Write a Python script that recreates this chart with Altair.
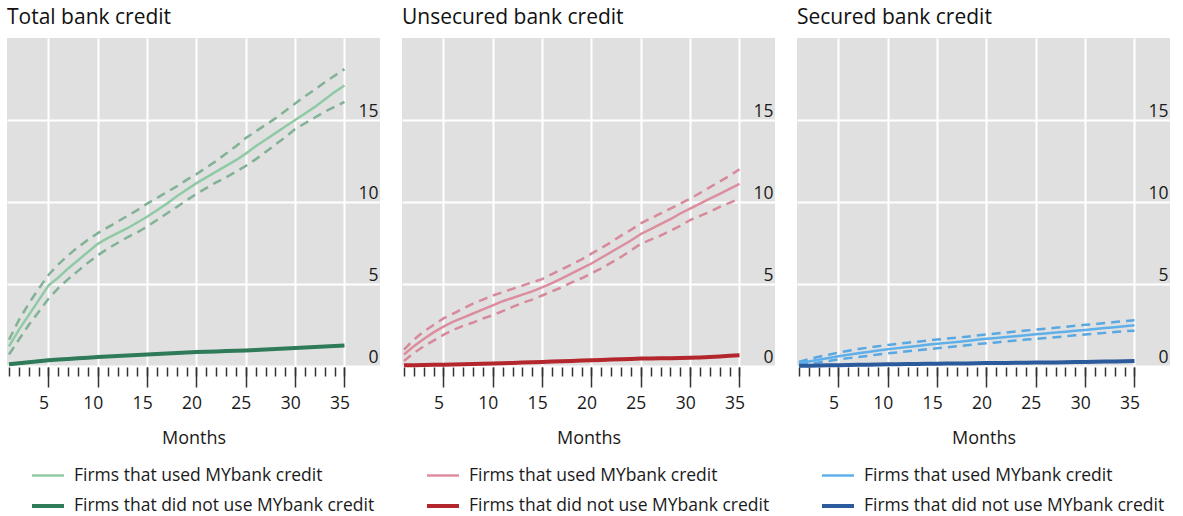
import altair as alt
import pandas as pd

# Months since first access to credit
months = list(range(1, 36))

# Total bank credit (per cent)
total_used = [1.2, 2.2, 3.1, 4.0, 4.9, 5.4, 5.95, 6.45, 6.95, 7.45,
              7.8, 8.1, 8.4, 8.75, 9.1, 9.5, 9.9, 10.35, 10.75, 11.15,
              11.5, 11.85, 12.2, 12.55, 12.95, 13.4, 13.8, 14.2, 14.6, 15.0,
              15.4, 15.8, 16.25, 16.7, 17.1]
total_used_hi = [1.6, 2.8, 3.8, 4.7, 5.55, 6.2, 6.75, 7.25, 7.7, 8.1,
                 8.45, 8.8, 9.15, 9.5, 9.9, 10.25, 10.6, 10.95, 11.35, 11.7,
                 12.1, 12.5, 12.95, 13.4, 13.9, 14.3, 14.7, 15.1, 15.55, 16.0,
                 16.45, 16.85, 17.3, 17.7, 18.1]
total_used_lo = [0.7, 1.6, 2.5, 3.3, 4.1, 4.75, 5.3, 5.8, 6.3, 6.75,
                 7.15, 7.5, 7.85, 8.15, 8.5, 8.9, 9.3, 9.7, 10.1, 10.5,
                 10.85, 11.2, 11.5, 11.85, 12.2, 12.6, 13.05, 13.5, 13.95, 14.45,
                 14.8, 15.15, 15.5, 15.8, 16.1]
total_not_used = [0.1, 0.17, 0.23, 0.29, 0.35, 0.39, 0.43, 0.47, 0.51, 0.55,
                  0.58, 0.61, 0.64, 0.67, 0.7, 0.73, 0.76, 0.79, 0.82, 0.85,
                  0.87, 0.89, 0.91, 0.93, 0.95, 0.98, 1.01, 1.04, 1.07, 1.1,
                  1.13, 1.16, 1.19, 1.22, 1.25]

# Unsecured bank credit (per cent)
unsec_used = [0.7, 1.2, 1.65, 2.05, 2.4, 2.7, 2.95, 3.2, 3.45, 3.7,
              3.95, 4.15, 4.35, 4.55, 4.8, 5.05, 5.35, 5.65, 5.95, 6.25,
              6.6, 6.95, 7.3, 7.65, 8.05, 8.35, 8.65, 8.95, 9.3, 9.6,
              9.9, 10.2, 10.5, 10.8, 11.1]
unsec_used_hi = [1.0, 1.6, 2.1, 2.5, 2.9, 3.2, 3.5, 3.8, 4.05, 4.3,
                 4.5, 4.7, 4.9, 5.1, 5.3, 5.6, 5.9, 6.2, 6.5, 6.85,
                 7.2, 7.55, 7.95, 8.3, 8.7, 9.0, 9.3, 9.6, 9.9, 10.2,
                 10.55, 10.9, 11.25, 11.6, 12.0]
unsec_used_lo = [0.3, 0.8, 1.2, 1.55, 1.9, 2.2, 2.45, 2.65, 2.9, 3.1,
                 3.35, 3.6, 3.85, 4.05, 4.3, 4.55, 4.8, 5.1, 5.35, 5.65,
                 5.95, 6.3, 6.65, 7.05, 7.45, 7.7, 7.95, 8.25, 8.55, 8.9,
                 9.15, 9.4, 9.7, 9.95, 10.2]
unsec_not_used = [0.04, 0.05, 0.06, 0.07, 0.08, 0.09, 0.1, 0.12, 0.13, 0.15,
                  0.17, 0.19, 0.21, 0.23, 0.25, 0.27, 0.29, 0.31, 0.33, 0.35,
                  0.37, 0.39, 0.41, 0.43, 0.45, 0.46, 0.47, 0.48, 0.49, 0.5,
                  0.52, 0.55, 0.58, 0.62, 0.65]

# Secured bank credit (per cent)
sec_used = [0.15, 0.27, 0.38, 0.49, 0.6, 0.69, 0.78, 0.86, 0.94, 1.02,
            1.09, 1.16, 1.22, 1.29, 1.35, 1.41, 1.47, 1.53, 1.6, 1.66,
            1.71, 1.77, 1.82, 1.88, 1.93, 1.98, 2.04, 2.09, 2.15, 2.2,
            2.26, 2.31, 2.37, 2.42, 2.48]
sec_used_hi = [0.25, 0.42, 0.56, 0.69, 0.82, 0.93, 1.03, 1.12, 1.2, 1.28,
               1.35, 1.42, 1.48, 1.55, 1.61, 1.67, 1.73, 1.79, 1.86, 1.92,
               1.98, 2.04, 2.1, 2.16, 2.22, 2.27, 2.33, 2.39, 2.45, 2.51,
               2.56, 2.62, 2.68, 2.73, 2.79]
sec_used_lo = [0.05, 0.13, 0.22, 0.3, 0.4, 0.48, 0.55, 0.62, 0.7, 0.77,
               0.83, 0.9, 0.96, 1.02, 1.08, 1.14, 1.2, 1.26, 1.33, 1.39,
               1.44, 1.5, 1.55, 1.61, 1.66, 1.71, 1.76, 1.81, 1.87, 1.92,
               1.97, 2.02, 2.07, 2.12, 2.15]
sec_not_used = [0.01, 0.02, 0.03, 0.04, 0.05, 0.06, 0.07, 0.08, 0.09, 0.1,
                0.11, 0.12, 0.12, 0.13, 0.14, 0.15, 0.15, 0.16, 0.17, 0.18,
                0.18, 0.19, 0.2, 0.2, 0.21, 0.22, 0.22, 0.23, 0.24, 0.25,
                0.26, 0.27, 0.28, 0.29, 0.3]

USED = "Firms that used MYbank credit"
NOT_USED = "Firms that did not use MYbank credit"
major_months = [5, 10, 15, 20, 25, 30, 35]
y_ticks = [0, 5, 10, 15]

FONT = "Open Sans"
TEXT = "#1a1a1a"
TICK = "#333333"


def panel(title, used, lo, hi, not_used, light, dark, dash_color):
    lines = pd.DataFrame({
        "month": months * 2,
        "value": used + not_used,
        "group": [USED] * len(months) + [NOT_USED] * len(months),
    })
    bands = pd.DataFrame({
        "month": months * 2,
        "value": lo + hi,
        "bound": ["lower"] * len(months) + ["upper"] * len(months),
    })
    x_scale = alt.Scale(domain=[0.8, 38.6], nice=False, zero=False)
    y_scale = alt.Scale(domain=[0, 20], nice=False, zero=False)

    # value axis on the right, labels sitting inside the plot above each gridline
    y_axis = alt.Axis(
        orient="right", values=y_ticks, grid=True, gridColor="white",
        gridWidth=2, ticks=False, tickSize=0, domain=False,
        labelFont=FONT, labelFontSize=17.5, labelColor=TEXT,
        labelAlign="right", labelBaseline="bottom", labelPadding=-2,
        title=None, minExtent=0, maxExtent=0)

    # confidence bands, carrying the monthly minor ticks
    bounds = alt.Chart(bands).mark_line(
        strokeDash=[9, 6], strokeWidth=2.5, color=dash_color
    ).encode(
        x=alt.X("month:Q", scale=x_scale, axis=alt.Axis(
            orient="bottom", values=months, tickSize=9, tickWidth=1.5,
            tickColor=TICK, labels=False, grid=False, domain=False,
            title=None, offset=1)),
        y=alt.Y("value:Q", scale=y_scale, axis=y_axis),
        detail="bound:N",
    )

    legend = alt.Legend(
        orient="none", legendX=29, legendY=426, direction="vertical",
        title=None, symbolType="M-1.6,0H1.6", symbolSize=400,
        labelFont=FONT, labelFontSize=17.5, labelColor=TEXT,
        labelOffset=14, labelLimit=500, rowPadding=10, padding=0,
    )

    means = alt.Chart(lines).mark_line().encode(
        x=alt.X("month:Q", scale=x_scale, axis=alt.Axis(
            orient="bottom", values=major_months, tickSize=20, tickWidth=1.5,
            tickColor=TICK, grid=True, gridColor="white", gridWidth=2,
            domain=False, labelFont=FONT, labelFontSize=17.5,
            labelColor=TEXT, labelPadding=7, labelOffset=-5,
            labelFlush=False, title="Months", titleFont=FONT,
            titleFontSize=18, titleFontWeight="normal", titleColor=TEXT,
            titlePadding=18, offset=1)),
        y=alt.Y("value:Q", scale=y_scale, axis=y_axis),
        color=alt.Color("group:N", scale=alt.Scale(
            domain=[USED, NOT_USED], range=[light, dark]), legend=legend),
        strokeWidth=alt.StrokeWidth("group:N", scale=alt.Scale(
            domain=[USED, NOT_USED], range=[2.5, 4]), legend=legend),
    )

    return alt.layer(bounds, means).resolve_axis(x="independent").properties(
        width=373, height=328,
        title=alt.TitleParams(text=title, anchor="start", frame="group",
                              font=FONT, fontSize=21, fontWeight="normal",
                              color="#111111", offset=10),
    )


chart = alt.hconcat(
    panel("Total bank credit", total_used, total_used_lo, total_used_hi,
          total_not_used, "#8fcaa5", "#2f7a58", "#82b296"),
    panel("Unsecured bank credit", unsec_used, unsec_used_lo, unsec_used_hi,
          unsec_not_used, "#dc8e9e", "#b3262c", "#d68a9b"),
    panel("Secured bank credit", sec_used, sec_used_lo, sec_used_hi,
          sec_not_used, "#5fb0ea", "#2b5b9c", "#5aa8e2"),
    spacing=15,
).resolve_scale(
    color="independent", strokeWidth="independent"
).configure_view(
    fill="#e0e0e0", stroke=None
).properties(
    padding={"left": 0, "top": 7, "right": 0, "bottom": 0},
    background="white",
)

chart.save("out.html", embed_options={"renderer": "svg", "actions": False})
